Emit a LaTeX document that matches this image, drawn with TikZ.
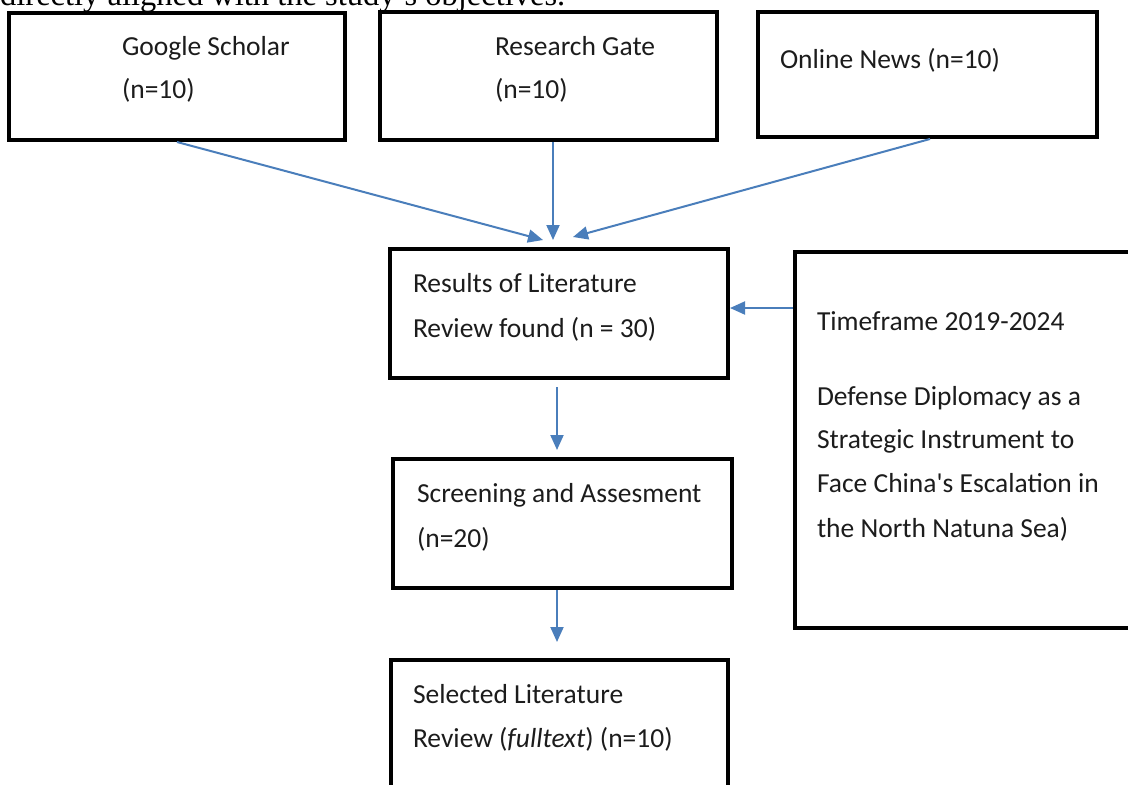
\documentclass[tikz,border=0pt]{standalone}
\usepackage{fontspec}
\setmainfont{Carlito}
\newfontfamily\straightq{Carlito}[Ligatures=TeXOff]
\newfontfamily\topserif{Liberation Serif}
\usetikzlibrary{arrows.meta,calc}
\definecolor{arrblue}{RGB}{74,126,187}
\definecolor{txt}{RGB}{28,28,28}
\begin{document}
\begin{tikzpicture}[x=1pt,y=-1pt,
  box/.style={draw=black, line width=4.5pt, rectangle, inner sep=0pt, outer sep=0pt},
  lbl/.style={anchor=base west, inner sep=0pt, outer sep=0pt, text=txt, font=\fontsize{27.5}{33}\selectfont},
  arr/.style={draw=arrblue, line width=2pt, -{Triangle[length=15pt,width=13pt]}}]
\useasboundingbox (0,0) rectangle (1128,785);
\begin{scope}
\clip (0,0) rectangle (1128,785);
% clipped text line above
\node[anchor=base west, inner sep=0pt, font=\topserif\fontsize{32.5}{38}\selectfont] (toptext) at (0,5) {directly aligned with the study’s objectives.};
% boxes
\node[box, minimum width=336pt, minimum height=127pt] (gs) at (177,76.5) {};
\node[box, minimum width=337pt, minimum height=128pt] (rg) at (548.5,76) {};
\node[box, minimum width=339pt, minimum height=125pt] (on) at (927.5,74.5) {};
\node[box, minimum width=338pt, minimum height=129pt] (res) at (559,313.5) {};
\node[box, minimum width=345pt, minimum height=376pt] (tf) at (967.5,440) {};
\node[box, minimum width=339pt, minimum height=129pt] (scr) at (562.5,523.5) {};
\node[box, minimum width=337pt, minimum height=140pt] (sel) at (559.5,730) {};
% texts
\node[lbl] (gs1) at (122,55) {Google Scholar};
\node[lbl] (gs2) at (122,98) {(n=10)};
\node[lbl] (rg1) at (495,55) {Research Gate};
\node[lbl] (rg2) at (495,98) {(n=10)};
\node[lbl] (on1) at (780,68) {Online News (n=10)};
\node[lbl] (res1) at (413,292) {Results of Literature};
\node[lbl] (res2) at (413,337) {Review found (n = 30)};
\node[lbl] (tf1) at (817,330) {Timeframe 2019-2024};
\node[lbl] (tf2) at (817,405) {Defense Diplomacy as a};
\node[lbl] (tf3) at (817,448) {Strategic Instrument to};
\node[lbl] (tf4) at (817,492) {Face China{\straightq'}s Escalation in};
\node[lbl] (tf5) at (817,537) {the North Natuna Sea)};
\node[lbl] (scr1) at (417,502) {Screening and Assesment};
\node[lbl] (scr2) at (417,547) {(n=20)};
\node[lbl] (sel1) at (413,703) {Selected Literature};
\node[lbl] (sel2) at (413,747) {Review (\textit{fulltext}) (n=10)};
\end{scope}
% connectors
\draw[arr] ([yshift=-2pt]gs.south) -- ([xshift=-16pt,yshift=9pt]res.north);
\draw[arr] ([xshift=4.5pt,yshift=-2pt]rg.south) -- ([xshift=-6pt,yshift=9pt]res.north);
\draw[arr] ([xshift=2.5pt,yshift=-2pt]on.south) -- ([xshift=14pt,yshift=12pt]res.north);
\draw[arr] ([xshift=-2pt,yshift=132pt]tf.west) -- ([xshift=2pt,yshift=5.5pt]res.east);
\draw[arr] ([xshift=-2pt,yshift=-9pt]res.south) -- ([xshift=-5.5pt,yshift=9pt]scr.north);
\draw[arr] ([xshift=-5.5pt,yshift=-2pt]scr.south) -- ([xshift=-2.5pt,yshift=18pt]sel.north);
\end{tikzpicture}
\end{document}
